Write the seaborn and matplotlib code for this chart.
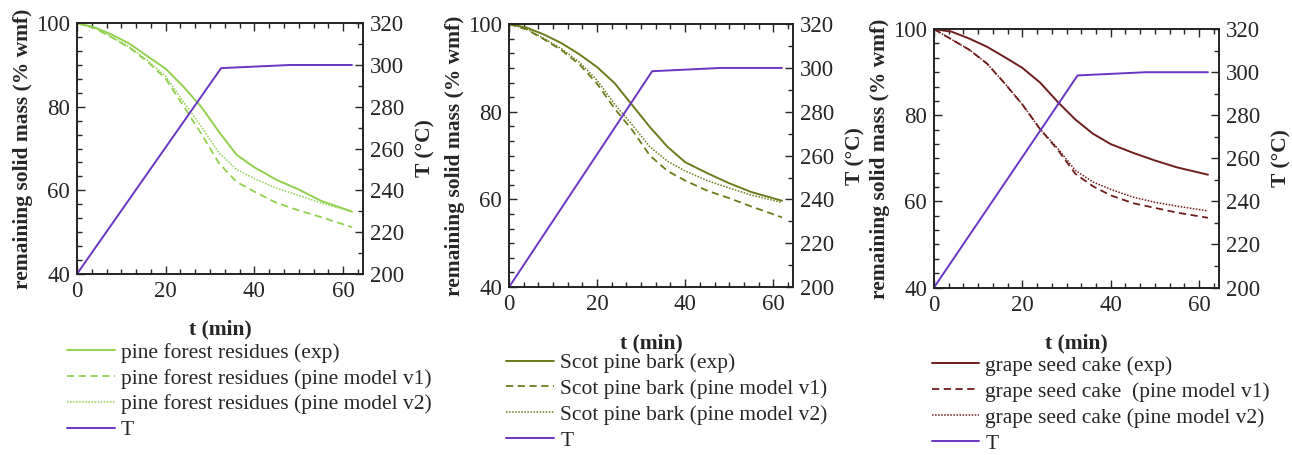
import numpy as np
import pandas as pd
import seaborn as sns
import matplotlib
matplotlib.use("Agg")
import matplotlib.pyplot as plt
from matplotlib.ticker import MultipleLocator

# time grid of the mass curves (min)
t_mass = [0, 4, 8, 12, 16, 20, 24, 28, 32, 36, 40, 45, 50, 55, 62]

# pine forest residues
pfr_exp = [100, 99.0, 97.2, 95.0, 92.0, 89.1, 84.8, 80.0, 74.0, 68.5, 65.5, 62.5, 60.2, 57.5, 54.9]
pfr_v1 = [100, 98.8, 96.5, 94.0, 90.7, 86.7, 80.2, 73.6, 66.5, 62.0, 59.7, 57.0, 55.2, 53.6, 51.2]
pfr_v2 = [100, 98.9, 96.6, 94.2, 91.0, 87.3, 81.2, 75.3, 69.0, 65.0, 62.8, 60.5, 58.8, 57.0, 54.9]

# Scot pine bark
spb_exp = [100, 99.2, 97.6, 95.6, 93.1, 90.2, 86.5, 81.5, 76.5, 72.0, 68.5, 66.0, 63.7, 61.7, 59.7]
spb_v1 = [100, 98.8, 96.5, 94.0, 90.8, 86.4, 80.7, 75.8, 70.0, 66.5, 64.3, 62.0, 60.3, 58.4, 55.9]
spb_v2 = [100, 98.9, 96.7, 94.3, 91.3, 87.2, 81.7, 77.0, 72.0, 68.7, 66.5, 64.3, 62.6, 61.0, 59.3]

# grape seed cake
gsc_exp = [100, 99.4, 97.8, 95.9, 93.5, 91.0, 87.6, 83.1, 79.0, 75.7, 73.3, 71.3, 69.5, 67.9, 66.2]
gsc_v1 = [100, 97.6, 95.2, 92.0, 87.4, 82.5, 76.8, 72.0, 66.4, 63.5, 61.4, 59.6, 58.5, 57.4, 56.2]
gsc_v2 = [100, 97.6, 95.2, 92.0, 87.4, 82.5, 76.8, 72.3, 67.2, 64.5, 62.8, 61.0, 59.8, 58.9, 57.8]

# temperature program
t_T = [0, 32.5, 48, 62]
T_vals = [200, 298.5, 300, 300]

panels = [
    ("pine forest residues", "pine forest residues", pfr_exp, pfr_v1, pfr_v2, "#92d050"),
    ("Scot pine bark", "Scot pine bark", spb_exp, spb_v1, spb_v2, "#6f7a1c"),
    ("grape seed cake", "grape seed cake ", gsc_exp, gsc_v1, gsc_v2, "#6e1c1c"),
]
T_color = "#6a35c2"

sns.set_style("ticks")
plt.rcParams["font.family"] = ["Liberation Serif", "DejaVu Serif"]
plt.rcParams["font.size"] = 15.5

fig = plt.figure(figsize=(12.92, 4.55), dpi=100)

# axes boxes [left, bottom, width, height] in figure fractions
boxes = [
    [0.0596, 0.398, 0.2214, 0.551],
    [0.394, 0.369, 0.2198, 0.578],
    [0.7229, 0.368, 0.2206, 0.568],
]
legend_anchor = [(0.052, 0.247), (0.392, 0.224), (0.721, 0.218)]

for (name, name_v1, exp, v1, v2, col), box, anchor in zip(panels, boxes, legend_anchor):
    ax = fig.add_axes(box)
    ax2 = ax.twinx()

    sns.lineplot(x=t_mass, y=exp, ax=ax, color=col, lw=1.4, label=f"{name} (exp)")
    sns.lineplot(x=t_mass, y=v1, ax=ax, color=col, lw=1.3, linestyle=(0, (4, 2.5)),
                 label=f"{name_v1} (pine model v1)")
    sns.lineplot(x=t_mass, y=v2, ax=ax, color=col, lw=1.1, linestyle=(0, (1, 1)),
                 label=f"{name} (pine model v2)")
    sns.lineplot(x=t_T, y=T_vals, ax=ax2, color=T_color, lw=1.4, label="T")

    h1, l1 = ax.get_legend_handles_labels()
    h2, l2 = ax2.get_legend_handles_labels()
    for a in (ax, ax2):
        if a.get_legend() is not None:
            a.get_legend().remove()

    ax.set_xlim(0, 64.5)
    ax.set_ylim(40, 100)
    ax2.set_ylim(200, 320)
    ax.xaxis.set_major_locator(MultipleLocator(20))
    ax.xaxis.set_minor_locator(MultipleLocator(20 / 6))
    ax.yaxis.set_major_locator(MultipleLocator(20))
    ax.yaxis.set_minor_locator(MultipleLocator(20 / 6))
    ax2.yaxis.set_major_locator(MultipleLocator(20))
    ax2.yaxis.set_minor_locator(MultipleLocator(10))

    ax.tick_params(which="both", direction="in", top=True, right=False, labelsize=16.5, pad=5)
    ax.tick_params(which="major", length=6, width=1)
    ax.tick_params(which="minor", length=3.5, width=1)
    ax2.tick_params(which="both", direction="in", labelsize=16.5, pad=5)
    ax2.tick_params(which="major", length=6, width=1)
    ax2.tick_params(which="minor", length=3.5, width=1)
    for a in (ax, ax2):
        for s in a.spines.values():
            s.set_linewidth(1.2)
            s.set_color("#222222")

    ax.set_xlabel("t (min)", fontweight="bold", fontsize=15.5, labelpad=13)
    ax.set_ylabel("remaining solid mass (% wmf)", fontweight="bold", fontsize=15.5, labelpad=2)
    ax2.set_ylabel("T (°C)", fontweight="bold", fontsize=15.5, labelpad=8)

    fig.legend(h1 + h2, l1 + l2, loc="upper left", bbox_to_anchor=anchor,
               frameon=False, fontsize=15.5, handlelength=2.2, handletextpad=0.3,
               labelspacing=0.27, borderpad=0, borderaxespad=0)

fig.savefig("out.png", dpi=100)
